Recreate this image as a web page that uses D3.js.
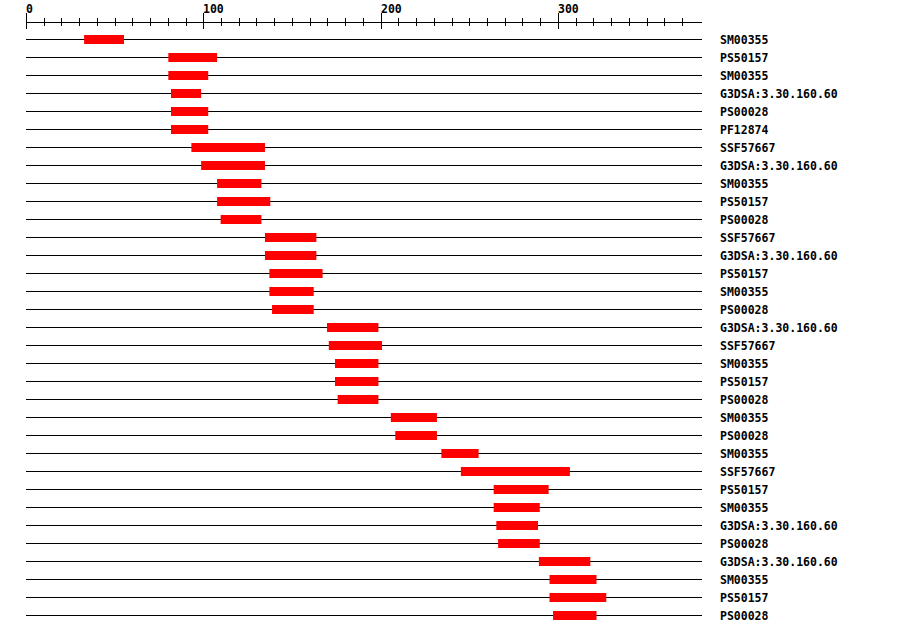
<!DOCTYPE html>
<html>
<head>
<meta charset="utf-8">
<script src="https://cdn.jsdelivr.net/npm/d3@7"></script>
<style>
  body { margin: 0; background: #fff; }
  text { font-family: "DejaVu Sans Mono", monospace; font-weight: bold; font-size: 11.5px; }
</style>
</head>
<body>
<svg id="chart" width="900" height="634"></svg>
<script>
// domain hits, top to bottom
const labels = [
  'SM00355', 'PS50157', 'SM00355', 'G3DSA:3.30.160.60', 'PS00028', 'PF12874',
  'SSF57667', 'G3DSA:3.30.160.60', 'SM00355', 'PS50157', 'PS00028',
  'SSF57667', 'G3DSA:3.30.160.60', 'PS50157', 'SM00355', 'PS00028',
  'G3DSA:3.30.160.60', 'SSF57667', 'SM00355', 'PS50157', 'PS00028',
  'SM00355', 'PS00028', 'SM00355', 'SSF57667', 'PS50157', 'SM00355',
  'G3DSA:3.30.160.60', 'PS00028', 'G3DSA:3.30.160.60', 'SM00355', 'PS50157', 'PS00028'
];
const starts = [32.5, 80, 80, 81.5, 81.5, 81.5, 93, 98.5, 107.5, 107.5, 109.5, 134.5, 134.5, 137, 137, 138.5,
  169.5, 170.5, 174, 174, 175.5, 205.5, 208, 234, 245, 263.5, 263.5, 265, 266, 289, 295, 295, 297];
const ends = [55, 107.5, 102.5, 98.5, 102.5, 102.5, 134.5, 134.5, 132.5, 137.5, 132.5, 163.5, 163.5, 167, 162, 162,
  198.5, 200.5, 198.5, 198.5, 198.5, 231.5, 231.5, 255, 306.5, 294.5, 289.5, 288.5, 289.5, 318, 321.5, 327, 321.5];

const seqLength = 381;
const majorTicks = [0, 100, 200, 300];
const minorTicks = d3.range(0, 380, 10);

const svg = d3.select('#chart');
const x = d3.scaleLinear().domain([0, seqLength]).range([26.5, 702]);
const rowY = i => 39.5 + i * 18;

// ruler
const axisY = 22.5;
const ruler = svg.append('g');
ruler.append('line')
  .attr('x1', x(0)).attr('x2', x(seqLength))
  .attr('y1', axisY).attr('y2', axisY)
  .attr('stroke', '#000');
ruler.selectAll('line.minor')
  .data(minorTicks.filter(d => majorTicks.indexOf(d) < 0))
  .enter().append('line')
  .attr('class', 'minor')
  .attr('x1', d => Math.floor(x(d)) + 0.5).attr('x2', d => Math.floor(x(d)) + 0.5)
  .attr('y1', 18).attr('y2', 26)
  .attr('stroke', '#000');
ruler.selectAll('line.major')
  .data(majorTicks)
  .enter().append('line')
  .attr('class', 'major')
  .attr('x1', d => Math.floor(x(d)) + 0.5).attr('x2', d => Math.floor(x(d)) + 0.5)
  .attr('y1', 13).attr('y2', 29)
  .attr('stroke', '#000');
ruler.selectAll('text')
  .data(majorTicks)
  .enter().append('text')
  .attr('x', d => Math.floor(x(d)))
  .attr('y', 12.5)
  .text(d => d);

// rows
const rows = svg.selectAll('g.row')
  .data(labels)
  .enter().append('g')
  .attr('class', 'row');

rows.append('line')
  .attr('x1', x(0) - 0.5).attr('x2', x(seqLength))
  .attr('y1', (d, i) => rowY(i)).attr('y2', (d, i) => rowY(i))
  .attr('stroke', '#000');

rows.append('rect')
  .attr('x', (d, i) => x(starts[i]))
  .attr('width', (d, i) => x(ends[i]) - x(starts[i]))
  .attr('y', (d, i) => rowY(i) - 4.5)
  .attr('height', 9)
  .attr('fill', '#ff0000');

rows.append('text')
  .attr('x', 720)
  .attr('y', (d, i) => rowY(i) + 4)
  .text(d => d);
</script>
</body>
</html>
